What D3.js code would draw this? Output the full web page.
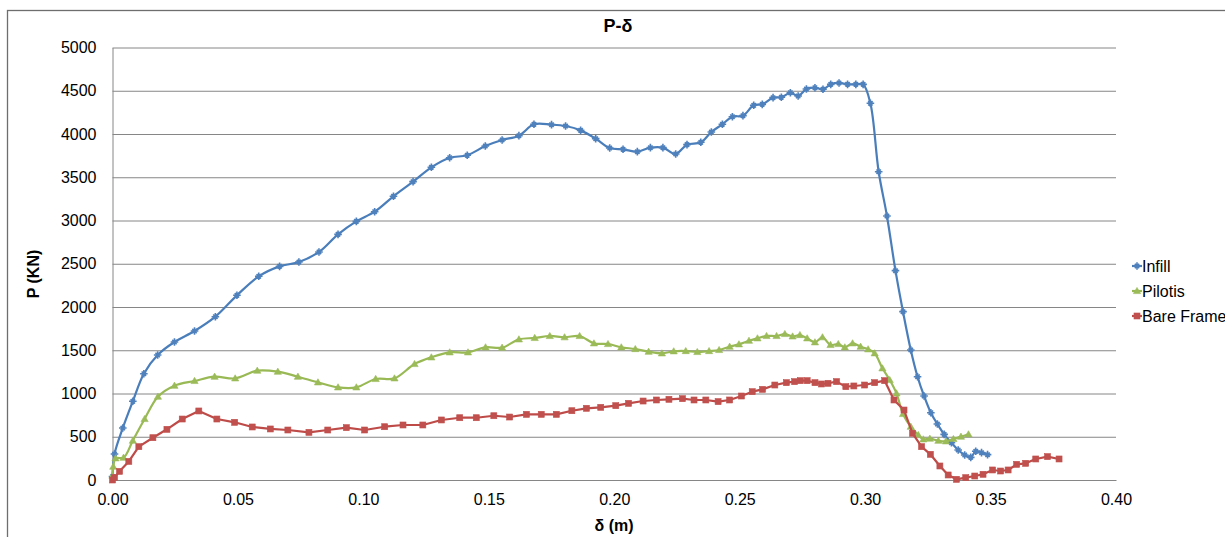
<!DOCTYPE html>
<html>
<head>
<meta charset="utf-8">
<script src="https://cdn.jsdelivr.net/npm/d3@7"></script>
<style>
  html, body { margin: 0; padding: 0; background: #fff; }
  svg { display: block; font-family: "Liberation Sans", Arial, sans-serif; }
</style>
</head>
<body>
<svg id="chart" width="1225" height="537"></svg>
<script>
"use strict";

/* ── Data (δ in m, P in kN) ────────────────────────────────── */
const infill = [
  [0, 40], [0.0008, 300], [0.0041, 601], [0.0081, 910], [0.0125, 1229], [0.018, 1445],
  [0.0247, 1595], [0.0327, 1722], [0.041, 1888], [0.0496, 2135], [0.0583, 2355],
  [0.0666, 2470], [0.0743, 2520], [0.0823, 2636], [0.0899, 2840], [0.0972, 2990],
  [0.1045, 3102], [0.112, 3280], [0.1198, 3449], [0.1271, 3615], [0.1344, 3726],
  [0.1414, 3754], [0.1486, 3861], [0.1553, 3931], [0.162, 3981], [0.168, 4112],
  [0.175, 4108], [0.1806, 4092], [0.1866, 4042], [0.1926, 3946], [0.1982, 3838],
  [0.2035, 3823], [0.2092, 3796], [0.2144, 3842], [0.2194, 3842], [0.2245, 3769],
  [0.229, 3877], [0.2345, 3904], [0.2387, 4023], [0.2431, 4112], [0.2471, 4200],
  [0.2513, 4212], [0.2556, 4332], [0.259, 4343], [0.2633, 4420], [0.2666, 4424],
  [0.2702, 4477], [0.2733, 4439], [0.2766, 4520], [0.28, 4535], [0.2832, 4517],
  [0.2863, 4574], [0.2896, 4590], [0.293, 4574], [0.2963, 4574], [0.2992, 4574],
  [0.3021, 4355], [0.3054, 3564], [0.3087, 3052], [0.3121, 2420], [0.3151, 1946],
  [0.3182, 1503], [0.3209, 1194], [0.3235, 971], [0.3262, 778], [0.3288, 647],
  [0.3315, 528], [0.3344, 431], [0.3371, 347], [0.3397, 289], [0.3421, 262],
  [0.3441, 332], [0.3464, 316], [0.3488, 293]
];

const pilotis = [
  [0, 50], [0.0003, 154], [0.0012, 251], [0.0044, 258], [0.0081, 455], [0.0128, 705],
  [0.0181, 963], [0.0247, 1090], [0.0327, 1145], [0.0407, 1194], [0.0489, 1175],
  [0.0577, 1264], [0.0659, 1252], [0.0739, 1194], [0.0819, 1129], [0.0899, 1071],
  [0.0972, 1071], [0.1049, 1168], [0.1124, 1175], [0.1204, 1341], [0.1271, 1418],
  [0.1344, 1476], [0.1417, 1476], [0.1487, 1534], [0.1553, 1530], [0.162, 1626],
  [0.1683, 1642], [0.1743, 1665], [0.1802, 1650], [0.1862, 1665], [0.1919, 1580],
  [0.1975, 1572], [0.2028, 1534], [0.2084, 1514], [0.2137, 1483], [0.219, 1464],
  [0.2237, 1488], [0.2285, 1491], [0.2331, 1480], [0.2378, 1491], [0.2418, 1503],
  [0.246, 1541], [0.2497, 1569], [0.2537, 1610], [0.2571, 1638], [0.2607, 1665],
  [0.2647, 1665], [0.268, 1688], [0.2711, 1660], [0.274, 1676], [0.2769, 1638],
  [0.28, 1592], [0.283, 1650], [0.2862, 1561], [0.2893, 1572], [0.2919, 1534],
  [0.295, 1580], [0.2982, 1541], [0.3012, 1511], [0.3038, 1465], [0.3069, 1291],
  [0.3098, 1156], [0.3125, 1002], [0.3151, 763], [0.3182, 616], [0.3212, 520],
  [0.3232, 470], [0.3258, 478], [0.3292, 454], [0.3322, 447], [0.3352, 474],
  [0.3382, 501], [0.3412, 528]
];

const bareFrame = [
  [0, 0], [0.0008, 30], [0.0028, 100], [0.0065, 215], [0.0105, 385], [0.0161, 489],
  [0.0217, 586], [0.0278, 705], [0.0344, 798], [0.0416, 705], [0.0487, 667],
  [0.0557, 613], [0.0629, 590], [0.0699, 578], [0.0783, 551], [0.0858, 578],
  [0.0932, 605], [0.1005, 578], [0.1085, 616], [0.1158, 636], [0.1237, 636],
  [0.1311, 694], [0.1384, 720], [0.145, 720], [0.152, 743], [0.1583, 728],
  [0.165, 759], [0.1709, 759], [0.1769, 759], [0.1831, 801], [0.1889, 829],
  [0.1946, 840], [0.2006, 859], [0.2057, 886], [0.2115, 913], [0.2168, 925],
  [0.2218, 933], [0.2272, 940], [0.2318, 925], [0.2365, 925], [0.2414, 906],
  [0.246, 925], [0.2507, 971], [0.255, 1021], [0.2591, 1048], [0.264, 1098],
  [0.2686, 1125], [0.2719, 1137], [0.2742, 1148], [0.2769, 1148], [0.28, 1125],
  [0.2826, 1110], [0.2852, 1118], [0.2886, 1137], [0.2923, 1079], [0.2955, 1087],
  [0.2998, 1098], [0.3038, 1125], [0.3078, 1148], [0.3115, 925], [0.3155, 809],
  [0.3189, 540], [0.3225, 385], [0.326, 297], [0.3298, 162], [0.3331, 58],
  [0.3364, 8], [0.3401, 27], [0.3437, 46], [0.347, 66], [0.3508, 116], [0.354, 104],
  [0.357, 116], [0.3604, 181], [0.364, 193], [0.368, 243], [0.3727, 270], [0.3773, 243]
];

const seriesNames = ["Infill", "Pilotis", "Bare Frame"];
const xTicks = [0, 0.05, 0.1, 0.15, 0.2, 0.25, 0.3, 0.35, 0.4];
const yTicks = [0, 500, 1000, 1500, 2000, 2500, 3000, 3500, 4000, 4500, 5000];

/* ── Layout ─────────────────────────────────────────────── */
const PLOT = { left: 112.5, right: 1116, top: 47.5, bottom: 480 };
const GRID = "#868686";

const svg = d3.select("#chart");

// outer chart border (runs off right/bottom edge)
svg.append("rect")
  .attr("x", 7.5).attr("y", 10.5)
  .attr("width", 1240).attr("height", 540)
  .attr("fill", "none").attr("stroke", "#6e6e6e").attr("stroke-width", 1.3);

const x = d3.scaleLinear().domain([0, 0.4]).range([PLOT.left, PLOT.right]);
const y = d3.scaleLinear().domain([0, 5000]).range([PLOT.bottom, PLOT.top]);

/* gridlines */
svg.append("g")
  .attr("transform", `translate(${PLOT.left},0)`)
  .call(d3.axisLeft(y).tickValues(yTicks).tickSize(-(PLOT.right - PLOT.left)).tickFormat(""))
  .call((a) => {
    a.select(".domain").remove();
    a.selectAll("line").attr("stroke", GRID).attr("stroke-width", 1);
  });

/* y axis */
svg.append("g")
  .attr("transform", `translate(${PLOT.left},0)`)
  .call(d3.axisLeft(y).tickValues(yTicks).tickSize(0).tickPadding(16).tickFormat(d3.format("d")))
  .call((a) => {
    a.select(".domain").attr("stroke", GRID);
    a.selectAll("text").attr("font-size", 16).attr("fill", "#000")
      .attr("font-family", "Liberation Sans, Arial, sans-serif");
  });

/* x axis */
svg.append("g")
  .attr("transform", `translate(0,${PLOT.bottom})`)
  .call(d3.axisBottom(x).tickValues(xTicks).tickSize(0).tickPadding(14).tickFormat(d3.format(".2f")))
  .call((a) => {
    a.select(".domain").attr("stroke", GRID);
    a.selectAll("text").attr("font-size", 16).attr("fill", "#000")
      .attr("font-family", "Liberation Sans, Arial, sans-serif");
  });

/* titles */
svg.append("text")
  .attr("x", 618).attr("y", 32)
  .attr("text-anchor", "middle")
  .attr("font-size", 18).attr("font-weight", "bold")
  .text("P-δ");

svg.append("text")
  .attr("x", 614).attr("y", 531)
  .attr("text-anchor", "middle")
  .attr("font-size", 16).attr("font-weight", "bold")
  .text("δ (m)");

svg.append("text")
  .attr("transform", "translate(39,274) rotate(-90)")
  .attr("text-anchor", "middle")
  .attr("font-size", 16).attr("font-weight", "bold")
  .text("P (KN)");

/* ── Series ─────────────────────────────────────────────── */
const series = [
  { name: seriesNames[0], data: infill,    line: "#4A7EBB", mark: "#4F81BD", sym: "star",     curve: d3.curveCatmullRom.alpha(0.5) },
  { name: seriesNames[1], data: pilotis,   line: "#98B954", mark: "#9BBB59", sym: "triangle", curve: d3.curveCatmullRom.alpha(0.5) },
  { name: seriesNames[2], data: bareFrame, line: "#BE4B48", mark: "#C0504D", sym: "square",   curve: d3.curveLinear }
];

function drawMarker(sel, kind, color) {
  if (kind === "square") {
    sel.append("rect").attr("x", -3).attr("y", -3).attr("width", 6).attr("height", 6)
      .attr("fill", color).attr("stroke", color).attr("stroke-width", 0.6);
  } else if (kind === "triangle") {
    sel.append("path").attr("d", "M0,-3.6L3.6,2.6L-3.6,2.6Z")
      .attr("fill", color).attr("stroke", color).attr("stroke-width", 0.6);
  } else {
    sel.append("path").attr("d", "M-3.8,0H3.8M0,-3.8V3.8M-2.2,-2.2L2.2,2.2M-2.2,2.2L2.2,-2.2")
      .attr("stroke", color).attr("stroke-width", 1.6).attr("fill", "none");
  }
}

series.forEach((s) => {
  const line = d3.line().x((d) => x(d[0])).y((d) => y(d[1])).curve(s.curve);
  svg.append("path")
    .datum(s.data)
    .attr("d", line)
    .attr("fill", "none")
    .attr("stroke", s.line)
    .attr("stroke-width", 2.2)
    .attr("stroke-linejoin", "round");

  svg.append("g").selectAll("g")
    .data(s.data)
    .join("g")
    .attr("transform", (d) => `translate(${x(d[0])},${y(d[1])})`)
    .each(function () { drawMarker(d3.select(this), s.sym, s.mark); });
});

/* ── Legend ─────────────────────────────────────────────── */
const legend = svg.append("g");
series.forEach((s, i) => {
  const ly = 266 + i * 25;
  const row = legend.append("g").attr("transform", `translate(1132,${ly})`);
  row.append("line").attr("x1", 0).attr("x2", 10).attr("y1", 0).attr("y2", 0)
    .attr("stroke", s.line).attr("stroke-width", 2.2);
  drawMarker(row.append("g").attr("transform", "translate(5,0)"), s.sym, s.mark);
  row.append("text").attr("x", 10).attr("y", 0).attr("dy", "0.35em")
    .attr("font-size", 16).attr("fill", "#000")
    .text(s.name);
});
</script>
</body>
</html>
